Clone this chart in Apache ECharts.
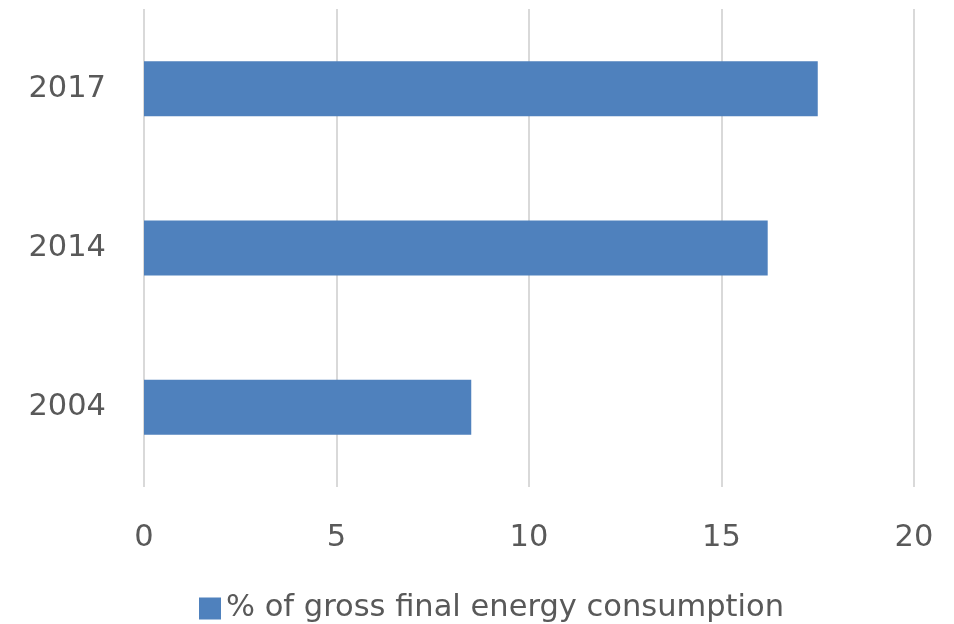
<!DOCTYPE html>
<html>
<head>
<meta charset="utf-8">
<script src="https://cdn.jsdelivr.net/npm/echarts@6/dist/echarts.min.js"></script>
<style>
  html, body { margin: 0; padding: 0; background: #fff; }
  #chart { width: 954px; height: 624px; }
</style>
</head>
<body>
<div id="chart"></div>
<script>
var years = ["2004", "2014", "2017"];
var shareValues = [8.5, 16.2, 17.5];
var seriesName = "% of gross final energy consumption";
var xTicks = [0, 5, 10, 15, 20];

var chart = echarts.init(document.getElementById("chart"));
var textColor = "#595959";
var font = "DejaVu Sans";

chart.setOption({
    animation: false,
    grid: { left: 144, right: 40, top: 9, bottom: 137, containLabel: false },
    legend: {
        top: 588,
        left: 194,
        itemWidth: 22,
        itemHeight: 22,
        itemGap: 10,
        icon: "rect",
        textStyle: { color: textColor, fontSize: 30.5, fontFamily: font },
        data: [seriesName]
    },
    xAxis: {
        type: "value",
        min: xTicks[0],
        max: xTicks[xTicks.length - 1],
        interval: 5,
        axisLine: { show: false },
        axisTick: { show: false },
        splitLine: { lineStyle: { color: "#d9d9d9", width: 2 } },
        axisLabel: { color: textColor, fontSize: 30.5, fontFamily: font, margin: 36 }
    },
    yAxis: {
        type: "category",
        data: years,
        axisLine: { show: false },
        axisTick: { show: false },
        splitLine: { show: false },
        axisLabel: { color: textColor, fontSize: 30.5, fontFamily: font, margin: 38 }
    },
    series: [{
        name: seriesName,
        type: "bar",
        data: shareValues,
        barWidth: 55,
        itemStyle: { color: "#4f81bd" }
    }]
});
</script>
</body>
</html>
